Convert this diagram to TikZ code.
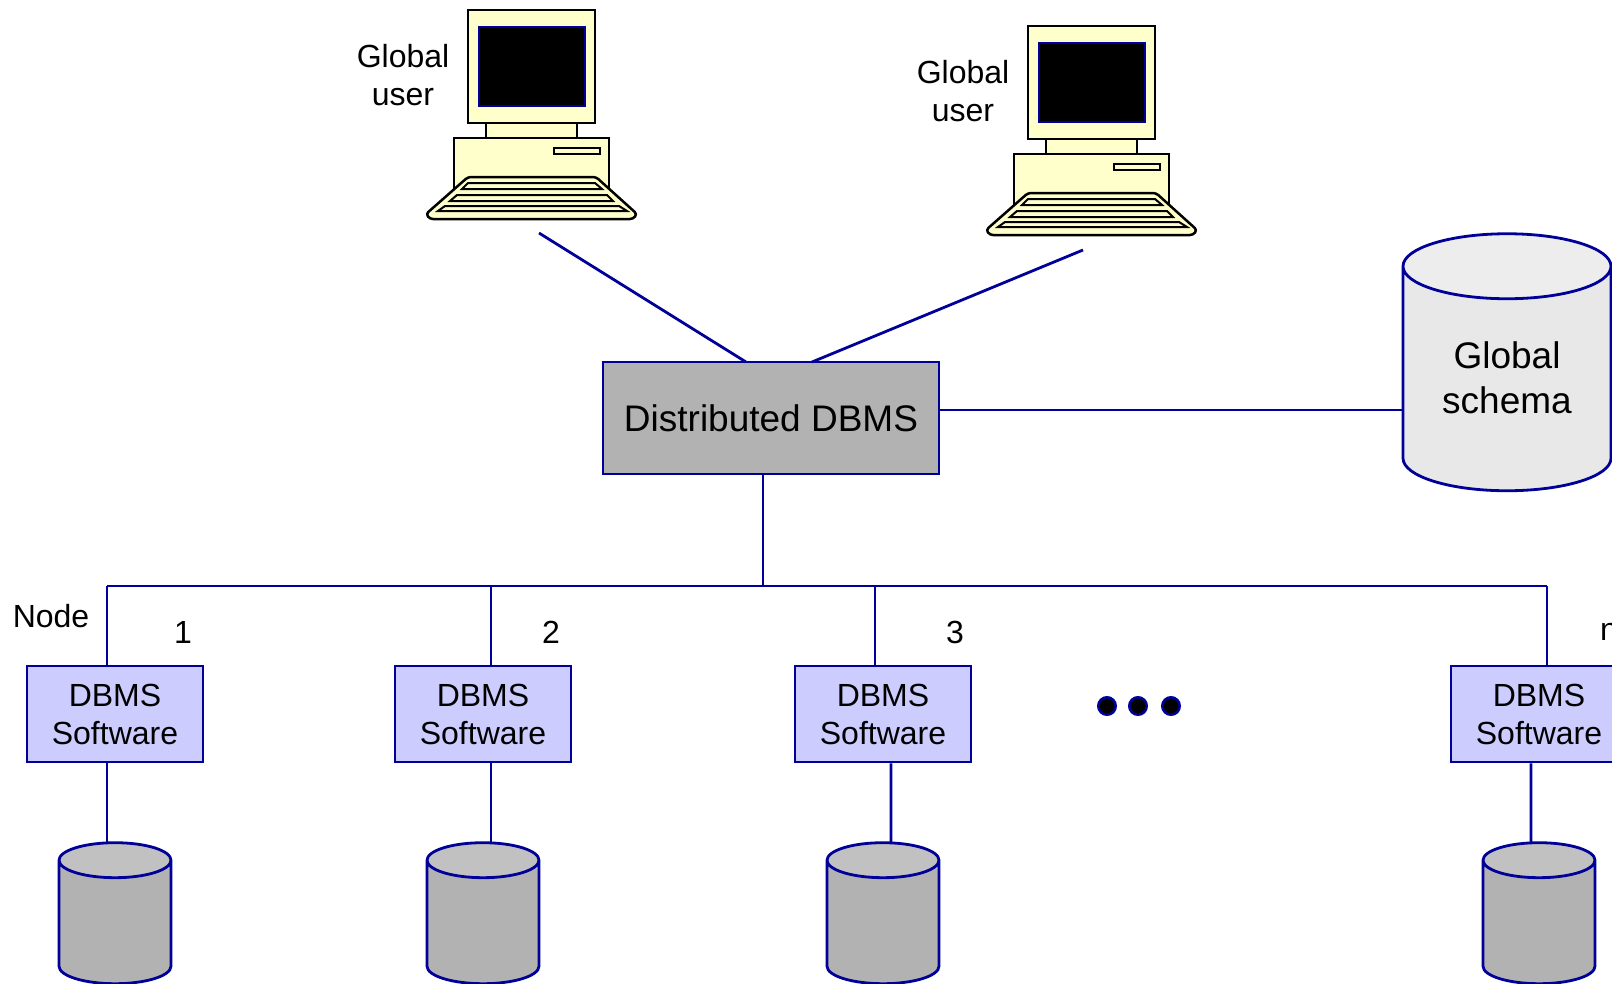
\documentclass[tikz,border=0pt]{standalone}
\usepackage{fontspec}
\setmainfont{Liberation Sans}
\usepackage{tikz}
\usetikzlibrary{shapes.geometric, positioning, calc}
\definecolor{linkblue}{RGB}{0, 0, 153}
\definecolor{boxgray}{RGB}{178, 178, 178}
\definecolor{softblue}{RGB}{204, 204, 255}
\definecolor{pcyellow}{RGB}{255, 255, 204}
\tikzset{
  link/.style={draw=linkblue, line width=2.8pt},
  softbox/.style={draw=linkblue, line width=2.8pt, fill=softblue, minimum width=176pt, minimum height=96pt, inner sep=0pt, align=center, font=\fontsize{32}{38}\selectfont},
  dbmsbox/.style={draw=linkblue, line width=2.8pt, fill=boxgray, minimum width=336pt, minimum height=112pt, inner sep=0pt, font=\fontsize{37}{45}\selectfont},
  localdb/.style={cylinder, shape border rotate=90, shape aspect=1, draw=linkblue, line width=2.8pt, cylinder uses custom fill, cylinder body fill=boxgray, cylinder end fill=boxgray!80!white, minimum width=112pt, minimum height=141pt, inner sep=17.5pt, outer sep=0pt},
  globaldb/.style={cylinder, shape border rotate=90, shape aspect=1, draw=linkblue, line width=2.8pt, cylinder uses custom fill, cylinder body fill=black!9, cylinder end fill=black!7, minimum width=208pt, minimum height=257pt, inner sep=32.5pt, outer sep=0pt},
  label/.style={align=center, inner sep=0pt, font=\fontsize{32}{38}\selectfont},
  schemalabel/.style={align=center, inner sep=0pt, font=\fontsize{37}{45}\selectfont},
  dot/.style={circle, draw=linkblue, line width=2.5pt, fill=black, minimum size=17.5pt, inner sep=0pt},
  pics/computer/.style={code={
    \draw[line width=2.5pt, fill=pcyellow] (18,113) rectangle (109,128);
    \draw[line width=2.5pt, fill=pcyellow] (-14,128) rectangle (141,190);
    \draw[line width=2.5pt, fill=pcyellow] (0,0) rectangle (127,113);
    \draw[line width=2.5pt, draw=linkblue, fill=black] (11,17) rectangle (117,96);
    \draw[line width=2pt, fill=pcyellow] (86,138) rectangle (132,144);
    \draw[line width=2.5pt, fill=pcyellow, rounded corners=3pt] (0,167) -- (128,167) -- (169,204) -- (165,209) -- (-38,209) -- (-42,204) -- cycle;
    \draw[line width=2pt] (0,173) -- (127,173) -- (134,179) -- (-6,179) -- cycle;
    \draw[line width=2pt] (-11,185) -- (139,185) -- (145,191) -- (-18,191) -- cycle;
    \draw[line width=2pt] (-23,196) -- (151,196) -- (159,201) -- (-30,201) -- cycle;
  }}
}

\begin{document}
\begin{tikzpicture}[x=1pt, y=-1pt]
  \clip (0,0) rectangle (1612,983);
  \fill[white] (0,0) rectangle (1612,983);

  % Global users
  \pic at (468,10) {computer};
  \pic at (1028,26) {computer};
  \node[label] (user1) at (403,75) {Global\\user};
  \node[label] (user2) at (963,91) {Global\\user};
  \coordinate (pc1) at (539,233);
  \coordinate (pc2) at (1083,250);

  % Central system
  \node[dbmsbox] (dbms) at (771,418) {\raisebox{-1pt}{Distributed DBMS}};
  \node[globaldb] (schema) at (1507,391) {};
  \node[schemalabel] (schematext) at (1507,378) {Global\\schema};

  \draw[link] (pc1) -- (746,362);
  \draw[link] (pc2) -- (812,362);
  \draw[link] (dbms.east |- 0,410) -- (schema.west |- 0,410);

  % Bus
  \coordinate (bus1) at (107,586);
  \coordinate (bus2) at (491,586);
  \coordinate (bus3) at (875,586);
  \coordinate (busn) at (1547,586);
  \coordinate (stem) at (763,586);
  \draw[link] (bus1) -- (busn);
  \draw[link] (stem) -- (stem |- dbms.south);

  % Sites
  \node[softbox] (soft1) at (115,714) {DBMS\\Software};
  \node[softbox] (soft2) at (483,714) {DBMS\\Software};
  \node[softbox] (soft3) at (883,714) {DBMS\\Software};
  \node[softbox] (softn) at (1539,714) {DBMS\\Software};

  \node[localdb] (db1) at (115,929) {};
  \node[localdb] (db2) at (483,929) {};
  \node[localdb] (db3) at (883,929) {};
  \node[localdb] (dbn) at (1539,929) {};

  \draw[link] (bus1) -- (bus1 |- soft1.north);
  \draw[link] (bus2) -- (bus2 |- soft2.north);
  \draw[link] (bus3) -- (bus3 |- soft3.north);
  \draw[link] (busn) -- (busn |- softn.north);

  \draw[link] (bus1 |- soft1.south) -- (bus1 |- db1.north);
  \draw[link] (bus2 |- soft2.south) -- (bus2 |- db2.north);
  \draw[link] ($(soft3.south)+(8,0)$) -- ($(db3.north)+(8,0)$);
  \draw[link] ($(softn.south)+(-8,0)$) -- ($(dbn.north)+(-8,0)$);

  % Labels
  \node[label] (nodelabel) at (51,616) {Node};
  \node[label] (num1) at (183,632) {1};
  \node[label] (num2) at (551,632) {2};
  \node[label] (num3) at (955,632) {3};
  \node[label] (numn) at (1609,632) {n};

  \node[dot] (dot1) at (1107,706) {};
  \node[dot] (dot2) at (1138,706) {};
  \node[dot] (dot3) at (1171,706) {};
\end{tikzpicture}
\end{document}
